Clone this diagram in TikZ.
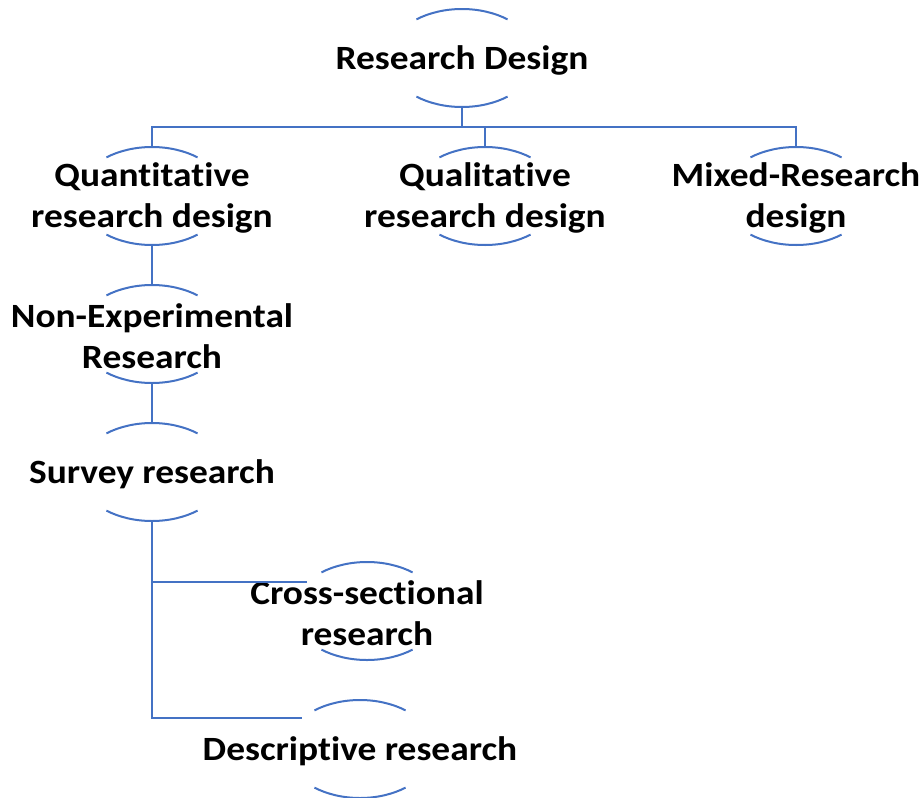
\documentclass[tikz,border=0pt]{standalone}
\usepackage{fontspec}
\setmainfont{Carlito}[FakeStretch=1.1,Ligatures=NoCommon]
\usetikzlibrary{shapes.geometric}

\begin{document}
\begin{tikzpicture}[x=1pt,y=-1pt,
		link/.style={draw=linkblue,line width=2pt},
		oval/.style={ellipse,minimum width=148pt,minimum height=98pt,inner sep=0pt,
			label={[txt]center:#1}},
		txt/.style={align=center,font=\fontsize{34}{41.5}\selectfont\bfseries,inner sep=0pt,yshift=-2pt}]
				\definecolor{linkblue}{HTML}{4472C4}
				\useasboundingbox (0,0) rectangle (924,798);
				\node[oval={Research Design}] (rd) at (462,58) {};
				\node[oval={Quantitative\\research design}] (quan) at (152,196) {};
				\node[oval={Qualitative\\research design}] (qual) at (485,196) {};
				\node[oval={Mixed-Research\\design}] (mix) at (796,196) {};
				\node[oval={Non-Experimental\\Research}] (nonexp) at (152,334) {};
				\node[oval={Survey research}] (svy) at (152,472) {};
				\node[oval={Cross-sectional\\research}] (cross) at (367,611) {};
				\node[oval={Descriptive research}] (desc) at (360,749) {};
				\foreach \n in {rd,quan,qual,mix,nonexp,svy,cross,desc}{
					\draw[link] ([shift={(52:74pt and 49pt)}]\n.center) arc[start angle=52,end angle=128,x radius=74pt,y radius=49pt];
					\draw[link] ([shift={(232:74pt and 49pt)}]\n.center) arc[start angle=232,end angle=308,x radius=74pt,y radius=49pt];
				}
				\draw[link] (rd.south) -- ++(0,20) coordinate (bus);
				\draw[link] (quan.north) |- (bus) -| (mix.north);
				\draw[link] (bus -| qual.north) -- (qual.north);
				\draw[link] (quan.south) -- (nonexp.north);
				\draw[link] (nonexp.south) -- (svy.north);
				\draw[link] (svy.south) |- (cross.154);
				\draw[link] (svy.south) |- (desc.152);
			\end{tikzpicture}
\end{document}
